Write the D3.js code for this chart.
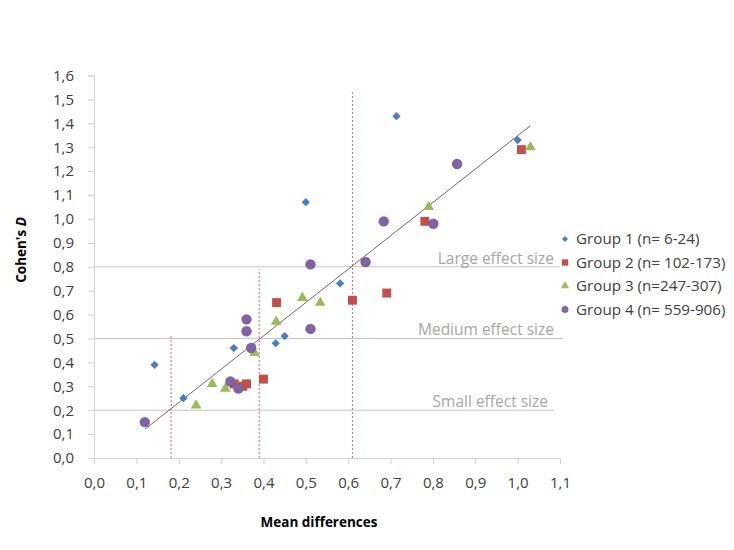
<!DOCTYPE html>
<html>
<head>
<meta charset="utf-8">
<script src="https://cdn.jsdelivr.net/npm/d3@7"></script>
<style>
  html, body { margin: 0; padding: 0; background: #fff; }
  svg { display: block; }
  text { font-family: "Open Sans", "Liberation Sans", sans-serif; }
</style>
</head>
<body>
<svg id="chart" width="734" height="550"></svg>
<script>
// ---------- data ----------
const group1X = [0.143, 0.211, 0.330, 0.429, 0.450, 0.500, 0.581, 0.714, 1.000];
const group1Y = [0.39, 0.25, 0.46, 0.48, 0.51, 1.07, 0.73, 1.43, 1.33];

const group2X = [0.331, 0.351, 0.360, 0.400, 0.431, 0.610, 0.691, 0.781, 1.009];
const group2Y = [0.31, 0.30, 0.31, 0.33, 0.65, 0.66, 0.69, 0.99, 1.29];

const group3X = [0.241, 0.279, 0.310, 0.379, 0.430, 0.492, 0.534, 0.790, 1.030];
const group3Y = [0.22, 0.31, 0.29, 0.44, 0.57, 0.67, 0.65, 1.05, 1.30];

const group4X = [0.120, 0.322, 0.341, 0.360, 0.360, 0.371, 0.511, 0.511, 0.641, 0.684, 0.801, 0.857];
const group4Y = [0.15, 0.32, 0.29, 0.58, 0.53, 0.46, 0.81, 0.54, 0.82, 0.99, 0.98, 1.23];

const seriesNames = ["Group 1 (n= 6-24)", "Group 2 (n= 102-173)", "Group 3 (n=247-307)", "Group 4 (n= 559-906)"];

const xTicks = [0, 0.1, 0.2, 0.3, 0.4, 0.5, 0.6, 0.7, 0.8, 0.9, 1.0, 1.1];
const yTicks = [0, 0.1, 0.2, 0.3, 0.4, 0.5, 0.6, 0.7, 0.8, 0.9, 1.0, 1.1, 1.2, 1.3, 1.4, 1.5, 1.6];

// effect-size reference lines: [y value, x end]
const effectNames = ["Small effect size", "Medium effect size", "Large effect size"];
const effectValues = [0.2, 0.5, 0.8];
const effectEnds = [1.086, 1.107, 1.10];

// vertical dotted markers: x value and top y value
const cutX = [0.182, 0.390, 0.610];
const cutTop = [0.51, 0.79, 1.53];

// linear trend line endpoints
const trendX = [0.12, 1.03];
const trendY = [0.12, 1.39];

// ---------- drawing ----------
const svg = d3.select("#chart");
const fmt = v => d3.format(".1f")(v).replace(".", ",");

const x = d3.scaleLinear().domain([0, 1.1]).range([94, 560]);
const y = d3.scaleLinear().domain([0, 1.6]).range([458, 75.5]);

const axisColor = "#d0d0d0";
const labelColor = "#404040";

// effect-size horizontal lines
effectValues.forEach((v, i) => {
  svg.append("line")
    .attr("x1", x(0)).attr("x2", x(effectEnds[i]))
    .attr("y1", y(v)).attr("y2", y(v))
    .attr("stroke", "#c4c4c4").attr("stroke-width", 1);
});

// y axis
const yAxis = svg.append("g").attr("transform", `translate(${x(0)},0)`)
  .call(d3.axisLeft(y).tickValues(yTicks).tickFormat(fmt).tickSize(6).tickPadding(14));
// x axis
const xAxis = svg.append("g").attr("transform", `translate(0,${y(0)})`)
  .call(d3.axisBottom(x).tickValues(xTicks).tickFormat(fmt).tickSize(6).tickPadding(13));

[yAxis, xAxis].forEach(g => {
  g.attr("font-size", null).attr("font-family", null);
  g.select(".domain").attr("stroke", axisColor);
  g.selectAll(".tick line").attr("stroke", axisColor);
  g.selectAll(".tick text").attr("fill", labelColor)
    .style("font-size", "15px").style("font-family", "'Open Sans', sans-serif");
});

// effect size labels
const effectLabelX = [548, 554, 554];
effectValues.forEach((v, i) => {
  svg.append("text")
    .attr("x", effectLabelX[i]).attr("y", y(v) - 3)
    .attr("text-anchor", "end")
    .attr("fill", "#a6a6a6")
    .style("font-size", "15.5px")
    .text(effectNames[i]);
});

// vertical dotted lines
cutX.forEach((cx, i) => {
  svg.append("line")
    .attr("x1", x(cx)).attr("x2", x(cx))
    .attr("y1", y(0)).attr("y2", y(cutTop[i]))
    .attr("stroke", "#e0607a").attr("stroke-width", 1)
    .attr("stroke-dasharray", "2,2");
});

// trend line
svg.append("line")
  .attr("x1", x(trendX[0])).attr("y1", y(trendY[0]))
  .attr("x2", x(trendX[1])).attr("y2", y(trendY[1]))
  .attr("stroke", "#6b6b6b").attr("stroke-width", 1);

// series markers
const colors = ["#4a7ebb", "#c0504d", "#9bbb59", "#8064a2"];
const shapes = [d3.symbolSquare, d3.symbolSquare, d3.symbolTriangle, d3.symbolCircle];
const rotations = [45, 0, 0, 0];
const sizes = [34, 80, 50, 85];
const legendSizes = [18, 40, 28, 38];
const seriesX = [group1X, group2X, group3X, group4X];
const seriesY = [group1Y, group2Y, group3Y, group4Y];

seriesX.forEach((xs, s) => {
  const pts = xs.map((v, i) => [v, seriesY[s][i]]);
  svg.append("g").selectAll("path").data(pts).join("path")
    .attr("transform", d => `translate(${x(d[0])},${y(d[1])}) rotate(${rotations[s]})`)
    .attr("d", d3.symbol().type(shapes[s]).size(sizes[s]))
    .attr("fill", colors[s]);
});

// legend
const legendY = [239, 262.5, 286, 309.5];
seriesNames.forEach((name, s) => {
  svg.append("path")
    .attr("transform", `translate(565,${legendY[s]}) rotate(${rotations[s]})`)
    .attr("d", d3.symbol().type(shapes[s]).size(legendSizes[s]))
    .attr("fill", colors[s]);
  svg.append("text")
    .attr("x", 576).attr("y", legendY[s]).attr("dy", "0.36em")
    .attr("fill", labelColor)
    .style("font-size", "15.2px")
    .text(name);
});

// axis titles
svg.append("text")
  .attr("x", 319).attr("y", 527)
  .attr("text-anchor", "middle")
  .attr("fill", "#000")
  .style("font-size", "13.5px").style("font-weight", "bold")
  .text("Mean differences");

const yt = svg.append("text")
  .attr("transform", `translate(26,250) rotate(-90)`)
  .attr("text-anchor", "middle")
  .attr("fill", "#000")
  .style("font-size", "13.5px").style("font-weight", "bold");
yt.append("tspan").text("Cohen's ");
yt.append("tspan").style("font-style", "italic").text("D");
</script>
</body>
</html>
